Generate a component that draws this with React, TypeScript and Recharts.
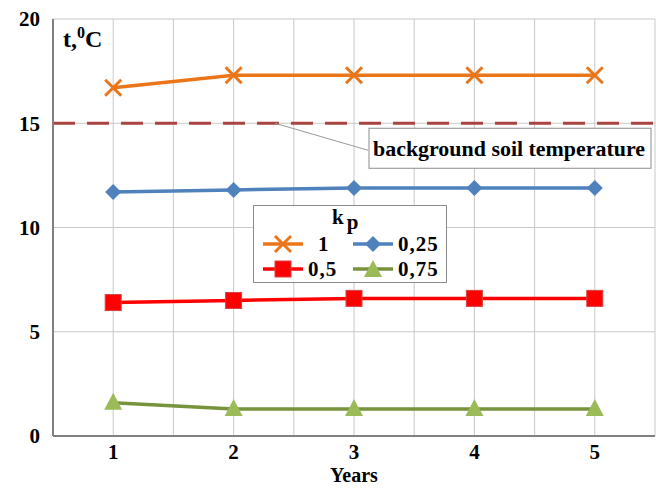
import {
  CartesianGrid,
  Legend,
  Line,
  LineChart,
  ReferenceLine,
  XAxis,
  YAxis,
} from "recharts";

const years = [1, 2, 3, 4, 5];
const kp1 = [16.7, 17.3, 17.3, 17.3, 17.3];
const kp025 = [11.7, 11.8, 11.9, 11.9, 11.9];
const kp05 = [6.4, 6.5, 6.6, 6.6, 6.6];
const kp075 = [1.6, 1.3, 1.3, 1.3, 1.3];
const yTicks = [0, 5, 10, 15, 20];
const gridX = [1, 1.5, 2, 2.5, 3, 3.5, 4, 4.5, 5, 5.5];
const gridY = [5, 10, 15, 20];
const backgroundTemp = 15;

const data = years.map((year, i) => ({
  year,
  kp1: kp1[i],
  kp025: kp025[i],
  kp05: kp05[i],
  kp075: kp075[i],
}));

const FONT = "'Liberation Serif', 'Times New Roman', serif";
const ORANGE = "#EB7519";
const BLUE = "#4F81BD";
const RED = "#FF0000";
const GREEN_LINE = "#77933C";
const GREEN_MARK = "#9BBB59";

const CrossDot = (props: any) => {
  const { cx, cy } = props;
  if (cx == null || cy == null) return null;
  const s = 8;
  return (
    <g stroke={ORANGE} strokeWidth={3}>
      <line x1={cx - s} y1={cy - s} x2={cx + s} y2={cy + s} />
      <line x1={cx - s} y1={cy + s} x2={cx + s} y2={cy - s} />
    </g>
  );
};

const DiamondDot = (props: any) => {
  const { cx, cy } = props;
  if (cx == null || cy == null) return null;
  const s = 8;
  return (
    <polygon
      points={`${cx},${cy - s} ${cx + s},${cy} ${cx},${cy + s} ${cx - s},${cy}`}
      fill={BLUE}
    />
  );
};

const SquareDot = (props: any) => {
  const { cx, cy } = props;
  if (cx == null || cy == null) return null;
  return (
    <rect x={cx - 8} y={cy - 8} width={16} height={16} fill={RED} stroke="#D94040" strokeWidth={1} />
  );
};

const TriangleDot = (props: any) => {
  const { cx, cy } = props;
  if (cx == null || cy == null) return null;
  return (
    <polygon
      points={`${cx},${cy - 10} ${cx + 9},${cy + 7} ${cx - 9},${cy + 7}`}
      fill={GREEN_MARK}
    />
  );
};

const LegendMark = ({ color, kind }: { color: string; kind: string }) => (
  <svg width={42} height={20} style={{ display: "block" }}>
    <line x1={1} y1={10} x2={41} y2={10} stroke={color === GREEN_MARK ? GREEN_LINE : color} strokeWidth={3.5} />
    {kind === "x" && <CrossDot cx={21} cy={10} />}
    {kind === "d" && <DiamondDot cx={21} cy={10} />}
    {kind === "s" && <SquareDot cx={21} cy={10} />}
    {kind === "t" && <TriangleDot cx={21} cy={11} />}
  </svg>
);

const legendItems = [
  { label: "1", color: ORANGE, kind: "x" },
  { label: "0,25", color: BLUE, kind: "d" },
  { label: "0,5", color: RED, kind: "s" },
  { label: "0,75", color: GREEN_MARK, kind: "t" },
];

const renderLegend = () => (
  <div
    style={{
      width: 192,
      height: 76,
      border: "1px solid #8c8c8c",
      background: "#fff",
      fontFamily: FONT,
      fontWeight: "bold",
      fontSize: 21,
      color: "#000",
      position: "relative",
    }}
  >
    <div style={{ position: "absolute", left: 78, top: 0, lineHeight: "22px" }}>
      k<span style={{ position: "relative", top: 5, marginLeft: 3 }}>p</span>
    </div>
    {legendItems.map((item, i) => {
      const col = i % 2;
      const row = Math.floor(i / 2);
      return (
        <div
          key={item.label}
          style={{
            position: "absolute",
            left: 8 + col * 90,
            top: 28 + row * 25,
            display: "flex",
            alignItems: "center",
            height: 20,
          }}
        >
          <LegendMark color={item.color} kind={item.kind} />
          <span
            style={{
              marginLeft: col === 0 && row === 0 ? 14 : 4,
              lineHeight: "20px",
              letterSpacing: 1,
            }}
          >
            {item.label}
          </span>
        </div>
      );
    })}
  </div>
);

const BackgroundLabel = (props: any) => {
  const { viewBox } = props;
  const x = viewBox.x;
  const y = viewBox.y;
  return (
    <g>
      <line x1={x + 222} y1={y} x2={x + 315} y2={y + 27} stroke="#9a9a9a" strokeWidth={1} />
      <rect x={x + 316} y={y + 5} width={282} height={40} fill="#fff" stroke="#8c8c8c" strokeWidth={1} />
      <text
        x={x + 320}
        y={y + 33}
        fontFamily={FONT}
        fontWeight="bold"
        fontSize={20}
        fill="#000"
        textLength={272}
        lengthAdjust="spacingAndGlyphs"
      >
        background soil temperature
      </text>
    </g>
  );
};

const YTitle = (props: any) => {
  const { viewBox } = props;
  const x = viewBox.x + viewBox.width + 10;
  return (
    <text x={x} y={47} fontFamily={FONT} fontWeight="bold" fontSize={24} fill="#000">
      t,
      <tspan dy={-9} fontSize={16}>0</tspan>
      <tspan dy={9}>C</tspan>
    </text>
  );
};

const tickStyle = { fontFamily: FONT, fontWeight: "bold", fontSize: 21, fill: "#000" };

export default function App() {
  return (
    <div style={{ position: "absolute", left: 0, top: 0, background: "#fff" }}>
      <LineChart
        width={656}
        height={488}
        data={data}
        margin={{ top: 19, right: 1, left: 0, bottom: 0 }}
      >
        <CartesianGrid
          stroke="#c8c8c8"
          strokeWidth={1}
          horizontalValues={gridY}
          verticalValues={gridX}
        />
        <XAxis
          dataKey="year"
          type="number"
          domain={[0.5, 5.5]}
          ticks={years}
          height={52}
          tickLine={false}
          tickSize={0}
          tickMargin={8}
          axisLine={{ stroke: "#808080", strokeWidth: 2 }}
          tick={tickStyle}
          label={{
            value: "Years",
            position: "insideBottom",
            offset: 6,
            style: { ...tickStyle, fontSize: 20 },
          }}
        />
        <YAxis
          domain={[0, 20]}
          ticks={yTicks}
          width={53}
          tickLine={false}
          tickSize={0}
          tickMargin={13}
          axisLine={{ stroke: "#808080", strokeWidth: 2 }}
          tick={tickStyle}
          label={<YTitle />}
        />
        <ReferenceLine
          y={backgroundTemp}
          stroke="#A94442"
          strokeWidth={3}
          strokeDasharray="22 12"
          label={<BackgroundLabel />}
        />
        <Line
          dataKey="kp1"
          stroke={ORANGE}
          strokeWidth={3.5}
          dot={<CrossDot />}
          isAnimationActive={false}
        />
        <Line
          dataKey="kp025"
          stroke={BLUE}
          strokeWidth={3.5}
          dot={<DiamondDot />}
          isAnimationActive={false}
        />
        <Line
          dataKey="kp05"
          stroke={RED}
          strokeWidth={3.5}
          dot={<SquareDot />}
          isAnimationActive={false}
        />
        <Line
          dataKey="kp075"
          stroke={GREEN_LINE}
          strokeWidth={3.5}
          dot={<TriangleDot />}
          isAnimationActive={false}
        />
        <Legend
          layout="horizontal"
          verticalAlign="middle"
          align="center"
          content={renderLegend}
          wrapperStyle={{ position: "absolute", left: 253, top: 205, width: 194, height: 78 }}
        />
      </LineChart>
    </div>
  );
}
